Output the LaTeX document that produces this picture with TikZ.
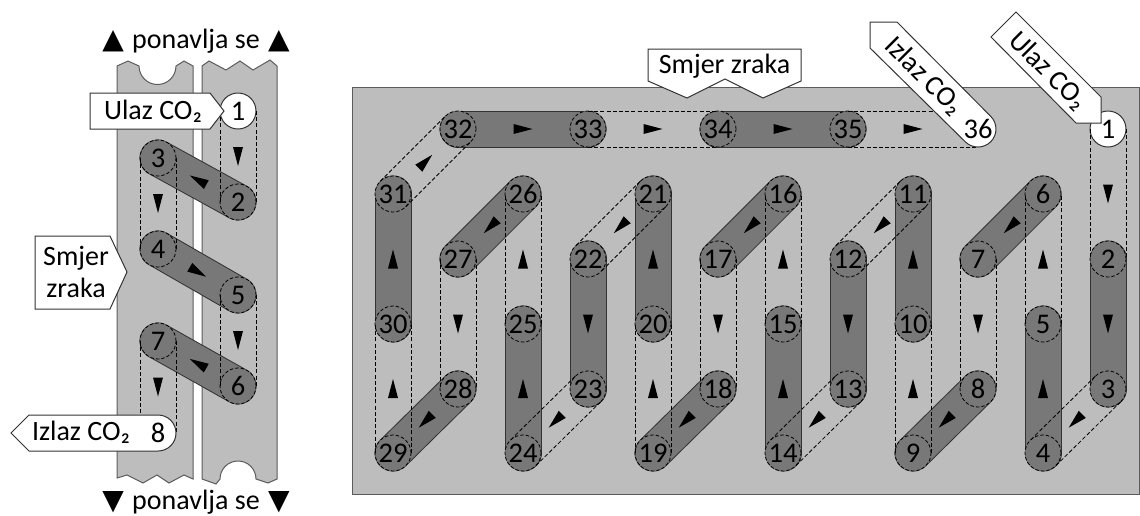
\documentclass[tikz,border=0pt]{standalone}
\usepackage{fontspec}
\setmainfont{Carlito}
\newfontfamily\symfont{DejaVu Sans}
\usetikzlibrary{calc,decorations.markings}
\pgfdeclarelayer{panel}
\pgfdeclarelayer{tube}
\pgfsetlayers{panel,tube,main}
\definecolor{paneL}{HTML}{BDBDBD}
\definecolor{tubeD}{HTML}{787878}
\definecolor{edgeC}{HTML}{333333}
\tikzset{
  x=1pt,y=-1pt,
  panelshape/.style={fill=paneL,draw=edgeC!80,line width=1pt},
  spot/.style={circle,minimum size=36pt,inner sep=0pt,fill=tubeD,draw=black,dash pattern=on 3.5pt off 2pt,line width=.8pt,font=\fontsize{28.5}{28.5}\selectfont},
  openspot/.style={circle,minimum size=36pt,inner sep=0pt,fill=white,draw=edgeC,line width=1pt,font=\fontsize{28.5}{28.5}\selectfont},
  barespot/.style={circle,minimum size=36pt,inner sep=0pt,font=\fontsize{28.5}{28.5}\selectfont},
  tubeout/.style={line cap=round,line width=37pt,draw=edgeC},
  tubein/.style={line cap=round,line width=35pt,draw=tubeD},
  tubeline/.style={draw=black,dash pattern=on 4pt off 2.2pt,line width=.8pt},
  callout/.style={fill=white,draw=edgeC,line width=1pt,line join=miter},
  label/.style={font=\fontsize{28}{32}\selectfont,inner sep=0pt},
  flowmark/.style={postaction={decorate},decoration={markings,mark=at position .5 with {\fill[black] (-9.5pt,-5pt) -- (9.5pt,0pt) -- (-9.5pt,5pt) -- cycle;}}},
}
% dark, solid tube from #1 to #2
\newcommand{\darkrun}[2]{%
  \begin{pgfonlayer}{tube}
    \draw[tubeout] (#1.center) -- (#2.center);
    \draw[tubein] (#1.center) -- (#2.center);
  \end{pgfonlayer}
  \path[flowmark] (#1.center) -- (#2.center);}
% light, dashed tube from #1 to #2
\newcommand{\lightrun}[2]{%
  \draw[tubeline] ($(#1.center)!18pt!90:(#2.center)$) -- ($(#2.center)!18pt!-90:(#1.center)$);
  \draw[tubeline] ($(#1.center)!18pt!-90:(#2.center)$) -- ($(#2.center)!18pt!90:(#1.center)$);
  \path[flowmark] (#1.center) -- (#2.center);}
\begin{document}
\begin{tikzpicture}
\useasboundingbox (0,0) rectangle (1140,515);
\begin{pgfonlayer}{panel}
  \fill[white] (0,0) rectangle (1140,515);
  \path[panelshape] (117,66) -- (128,61) -- (139,66) arc[start angle=180,end angle=360,radius=18.5,y radius=-18.5] -- (184,61) -- (193,66) -- (193,479) -- (184,475) -- (169,483) -- (157,475) -- (143,483) -- (127,475) -- (117,478) -- cycle;
  \path[panelshape] (202,66) -- (209,61) -- (226,70) -- (240,61) -- (253,70) -- (270,60) -- (277,66) -- (277,479) -- (268,483) -- (256,479) arc[start angle=0,end angle=180,radius=18,y radius=-18] -- (216,484) -- (202,479) -- cycle;
  \path[panelshape] (352,87) rectangle (1139.5,494);
\end{pgfonlayer}
% left panel spots
\node[openspot] (a1) at (238,111) {1};
\node[spot] (a2) at (238,202) {2};
\node[spot] (a3) at (158,158) {3};
\node[spot] (a4) at (158,249) {4};
\node[spot] (a5) at (238,295) {5};
\node[spot] (a6) at (238,386) {6};
\node[spot] (a7) at (158,341) {7};
\node[barespot] (a8) at (158,433) {};
\lightrun{a1}{a2}
\darkrun{a2}{a3}
\lightrun{a3}{a4}
\darkrun{a4}{a5}
\lightrun{a5}{a6}
\darkrun{a6}{a7}
\lightrun{a7}{a8}
% right panel spots
\foreach \n/\x/\y in {2/1108/259,3/1108/389,4/1043/453,5/1043/324,6/1043/194,7/978/259,8/978/389,9/913/453,10/913/324,11/913/194,12/848/259,13/848/389,14/783/453,15/783/324,16/783/194,17/718/259,18/718/389,19/653/453,20/653/324,21/653/194,22/588/259,23/588/389,24/523/453,25/523/324,26/523/194,27/458/259,28/458/389,29/393/453,30/393/324,31/393/194,32/458/129,33/588/129,34/718/129,35/848/129}
  {\node[spot] (b\n) at (\x,\y) {\n};}
\node[openspot] (b1) at (1108,129) {1};
\node[barespot] (b36) at (978,129) {};
\foreach \p/\q in {1/2,3/4,5/6,7/8,9/10,11/12,13/14,15/16,17/18,19/20,21/22,23/24,25/26,27/28,29/30,31/32,33/34,35/36}
  {\lightrun{b\p}{b\q}}
\foreach \p/\q in {2/3,4/5,6/7,8/9,10/11,12/13,14/15,16/17,18/19,20/21,22/23,24/25,26/27,28/29,30/31,32/33,34/35}
  {\darkrun{b\p}{b\q}}
% callouts, left
\path[callout] (90,93) -- (210,93) -- (224,111) -- (210,129) -- (90,129) -- cycle;
\node[label] (ulazA) at (153,111) {Ulaz CO₂};
\path[callout] (35,236) -- (110,236) -- (127,272) -- (110,309) -- (35,309) -- cycle;
\node[label,align=center] (smjerA) at (76,272) {Smjer\\zraka};
\path[callout] (11,433) -- (29,415) -- (158,415) arc[start angle=90,end angle=-90,radius=18,y radius=-18] -- (29,451) -- cycle;
\node[label] (izlazA) at (81,432) {Izlaz CO₂};
\node[barespot] (a8t) at (a8.center) {8};
\node[label] (upL) at (196,41) {{\symfont ▲}\hspace{2pt} ponavlja se \hspace{2pt}{\symfont ▲}};
\node[label] (dnL) at (196,502) {{\symfont ▼}\hspace{2pt} ponavlja se \hspace{2pt}{\symfont ▼}};
% callouts, right
\path[callout] (648,49) -- (801,49) -- (801,81) -- (763,98) -- (725,79) -- (687,98) -- (648,81) -- cycle;
\node[label] (smjerB) at (724.5,66) {Smjer zraka};
\path[callout] (870,22) -- (897,22) -- (990.7,116.3) arc[start angle=45,end angle=-135,radius=18,y radius=-18] -- (870,48) -- cycle;
\node[label,rotate=-45] (izlazB) at (924,76) {Izlaz CO₂};
\node[barespot] (b36t) at (b36.center) {36};
\path[callout] (1016,12) -- (1101,97) -- (1101,123) -- (1076,123) -- (991,37) -- cycle;
\node[label,rotate=-45] (ulazB) at (1048,71) {Ulaz CO₂};
\end{tikzpicture}
\end{document}
